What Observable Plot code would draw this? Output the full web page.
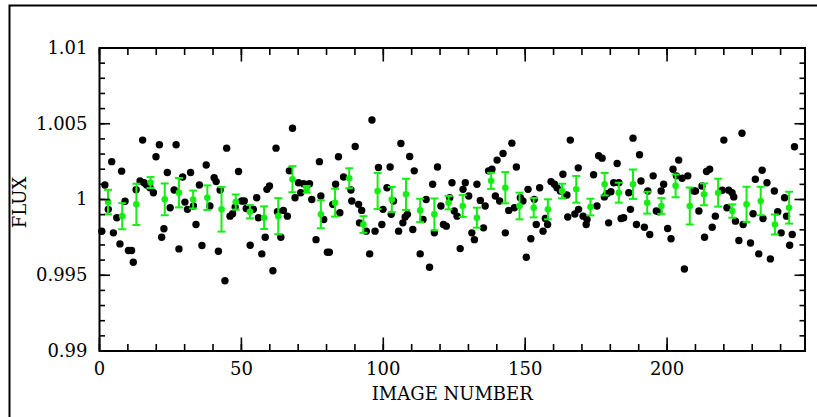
<!DOCTYPE html>
<html><head><meta charset="utf-8">
<script src="https://cdn.jsdelivr.net/npm/d3@7"></script>
<script src="https://cdn.jsdelivr.net/npm/@observablehq/plot@0.6"></script>
<style>html,body{margin:0;padding:0;background:#fff;overflow:hidden}svg{overflow:hidden}</style>
</head><body><div id="chart"></div>
<script>
// Individual images (black points)
const imageNumber = [
0.8,1.9,3.1,4.3,4.9,6.1,7.2,7.8,9.0,10.2,11.3,11.9,12.9,14.3,15.2,15.7,16.6,17.8,19.0,19.9,
21.1,21.9,22.7,23.9,24.9,26.3,27.0,28.0,29.3,30.1,31.0,32.1,33.1,34.0,35.2,36.1,37.6,38.9,40.4,41.1,
41.9,42.5,44.2,44.8,46.0,46.9,47.8,49.0,50.1,51.0,51.7,53.1,54.2,55.4,56.0,57.2,58.4,59.0,59.9,61.1,
62.2,62.7,63.9,64.8,66.2,66.9,68.0,68.9,70.1,70.9,71.9,73.0,74.0,74.8,76.3,77.5,78.0,79.0,80.3,81.0,
82.2,83.2,84.2,84.7,86.0,88.6,88.9,90.1,91.3,91.6,92.4,94.0,95.2,96.0,97.1,98.3,99.5,99.9,101.3,102.4,
102.8,103.6,105.4,106.2,106.9,107.7,108.5,109.3,110.4,110.9,113.0,114.0,115.1,116.3,117.4,118.0,119.1,120.3,121.2,122.2,
123.4,124.2,125.0,126.0,127.1,128.1,128.9,130.1,131.2,132.1,133.0,134.2,135.3,135.9,137.1,138.3,139.5,140.1,141.0,142.2,
143.0,144.2,145.3,146.2,146.9,148.3,149.2,150.4,151.0,152.0,153.2,153.9,155.1,156.3,157.1,157.9,159.1,160.3,161.2,162.4,
163.3,164.7,165.0,165.9,167.5,168.7,168.8,170.4,171.5,171.8,174.1,175.3,175.9,177.1,177.9,178.8,179.4,180.2,181.2,182.4,
183.0,183.8,184.7,186.5,187.1,188.0,189.2,190.3,190.8,192.0,193.2,193.9,195.1,196.2,197.1,197.9,198.8,200.2,201.4,202.1,
203.3,204.1,205.3,206.1,207.3,209.4,210.0,211.2,212.3,213.2,213.9,215.0,215.9,217.0,219.4,220.0,221.1,221.7,222.9,223.5,
224.1,225.3,226.4,226.8,229.4,230.3,231.1,232.3,233.5,233.8,235.2,236.4,237.8,239.0,240.2,241.4,242.1,243.2,244.1,244.9
];
const flux = [
0.9979,1.00096,0.99935,1.0025,0.9978,0.9988,0.99707,1.00187,0.99988,0.99663,0.99663,0.99586,1.00065,1.00122,1.00392,1.00111,1.00096,1.00078,1.00045,1.00282,
1.00361,0.99751,0.99807,1.00178,0.99946,1.00063,1.00361,0.99674,1.00149,0.99983,0.99935,1.00178,0.99957,0.99835,1.00096,0.99696,1.00228,0.99957,1.00144,1.00118,
0.99658,1.00063,0.99464,1.00339,0.9989,0.99906,0.9995,1.00185,0.9999,0.9999,0.99941,0.99698,0.99935,1.00012,0.9988,0.99641,0.99751,1.00067,1.00089,0.9953,
1.00339,0.99919,0.99751,0.99928,0.9989,1.00189,1.0047,1.00012,1.00111,1.00045,1.00104,1.00096,1.00104,1.0,0.99735,1.0025,1.00023,0.99868,0.99652,0.99652,
0.99968,1.00101,1.00282,0.99913,1.00149,1.00063,0.9999,1.0035,0.99968,0.99846,0.99928,0.99791,0.99641,1.00525,0.99791,1.00211,0.99835,0.99935,1.00078,1.00215,
0.99902,0.9999,0.99791,1.0037,0.99846,0.99884,0.99902,1.00284,0.99802,1.00189,0.99641,0.99868,1.0,0.99553,1.00101,0.9978,1.00215,0.99957,0.99835,0.99824,
1.00012,1.00111,0.99924,0.9989,0.99676,1.00067,1.00111,1.00023,0.9978,0.99735,1.00101,0.99994,0.99813,0.99957,1.00189,1.002,1.00023,1.0026,0.9999,1.00304,
0.9978,0.99928,1.00372,0.99946,1.00215,1.00012,0.9999,0.99619,1.00067,0.99741,1.00001,0.99835,1.00078,0.99791,0.99875,0.99835,1.00118,1.00101,1.00078,1.00056,
1.00167,1.0003,0.99884,1.00392,0.99904,1.00209,0.99935,0.9989,0.99835,0.99868,1.00163,0.99957,1.00289,1.00273,1.00017,1.00038,0.99846,1.00051,1.00111,1.00238,
1.00111,0.99875,0.9988,1.00045,0.99935,1.00405,0.99835,1.00295,1.00122,0.99817,1.00056,0.99769,1.00156,0.99924,0.99919,1.00056,1.00101,0.99809,0.99741,1.002,
1.00156,1.0026,1.0014,0.99541,1.00156,1.00056,1.00056,0.99924,1.00089,0.99751,1.00185,1.002,0.99817,0.9989,1.00061,1.00392,0.99946,1.00061,1.00045,1.00017,
0.99857,0.99729,1.00437,0.99835,0.99713,0.99906,1.00134,0.99641,1.00193,0.99875,1.00111,0.99608,1.00056,0.99919,0.9978,1.00012,0.9989,0.99698,0.99769,1.00348
];

// Binned means (green points with error bars)
const binImage = [3,8,13,18,23,28,33,38,43,48,53,58,63,68,73,78,83,88,93,98,103,108,113,118,123,128,133,138,143,148,153,158,163,168,173,178,183,188,193,198,203,208,213,218,223,228,233,238,243];
const binFlux = [
0.99983,0.9989,0.99968,1.00112,1.00001,1.00045,1.0,1.00012,0.99935,0.99983,
0.99919,0.9988,0.9989,1.00134,1.00067,0.99902,0.99979,1.0014,0.99835,1.00056,
1.0,1.00034,0.99928,0.99902,0.99979,0.99957,0.9988,1.00123,1.00078,0.99957,
0.99946,0.99935,1.00056,1.00067,0.9995,1.00101,1.00045,1.00101,0.99979,0.99957,
1.0009,0.99957,1.00034,1.00045,0.99924,0.99968,0.9999,0.99835,0.99946
];
const binErr = [
0.00081,0.00086,0.00136,0.00036,0.00105,0.00097,0.00059,0.00081,0.00147,0.0005,
0.00044,0.00075,0.00119,0.00086,0.00022,0.00092,0.00092,0.00066,0.00055,0.00119,
0.00083,0.00103,0.00077,0.00105,0.00044,0.00072,0.00066,0.00053,0.00103,0.00088,
0.00064,0.00066,0.00048,0.00088,0.00055,0.00074,0.00066,0.00097,0.00072,0.00052,
0.00075,0.00122,0.00072,0.00092,0.00044,0.00116,0.00094,0.00066,0.00105
];

// Axis ticks and labels
const xMajorTicks = [0, 50, 100, 150, 200];
const xTickLabels = ["0", "50", "100", "150", "200"];
const xMinorTicks = [0,10,20,30,40,50,60,70,80,90,100,110,120,130,140,150,160,170,180,190,200,210,220,230,240];
const yMajorTicks = [0.99, 0.995, 1.0, 1.005, 1.01];
const yTickLabels = ["0.99", "0.995", "1", "1.005", "1.01"];
const yMinorTicks = [0.99,0.991,0.992,0.993,0.994,0.995,0.996,0.997,0.998,0.999,1.0,1.001,1.002,1.003,1.004,1.005,1.006,1.007,1.008,1.009,1.01];
const xLabel = "IMAGE NUMBER";
const yLabel = "FLUX";

const green = "#14ee14";
const font = "DejaVu Serif";
const capSymbol = {
  draw(ctx, size) {
    const r = Math.sqrt(size / Math.PI);
    ctx.moveTo(-r, 0); ctx.lineTo(r, 0);
  }
};
const noText = () => "";

const chart = Plot.plot({
  width: 817,
  height: 417,
  marginLeft: 99,
  marginRight: 12.5,
  marginTop: 47.5,
  marginBottom: 66.5,
  style: {fontFamily: font, fontSize: "18px", color: "black", background: "white", overflow: "hidden"},
  x: {domain: [0, 248.6], label: null},
  y: {domain: [0.99, 1.01], label: null},
  marks: [
    // outer page border (only left/top edges visible)
    Plot.frame({stroke: "black", strokeWidth: 2, insetLeft: -90, insetTop: -42.5, insetRight: -60, insetBottom: -120}),
    // data
    Plot.dot(imageNumber, {x: d => d, y: (d, i) => flux[i], r: 3.7, fill: "black", stroke: "none"}),
    Plot.ruleX(binImage, {x: d => d, y1: (d, i) => binFlux[i] - binErr[i], y2: (d, i) => binFlux[i] + binErr[i], stroke: green, strokeWidth: 2}),
    Plot.dot(binImage, {x: d => d, y: (d, i) => binFlux[i] - binErr[i], symbol: capSymbol, r: 4, stroke: green, strokeWidth: 2, fill: "none"}),
    Plot.dot(binImage, {x: d => d, y: (d, i) => binFlux[i] + binErr[i], symbol: capSymbol, r: 4, stroke: green, strokeWidth: 2, fill: "none"}),
    Plot.dot(binImage, {x: d => d, y: (d, i) => binFlux[i], r: 3.3, fill: green, stroke: "none"}),
    // frame
    Plot.frame({stroke: "black", strokeWidth: 2}),
    // inward ticks
    Plot.axisX(xMinorTicks, {anchor: "bottom", tickSize: -6.5, tickFormat: noText, strokeWidth: 1.6, label: null}),
    Plot.axisX(xMinorTicks, {anchor: "top", tickSize: -6.5, tickFormat: noText, strokeWidth: 1.6, label: null}),
    Plot.axisX(xMajorTicks, {anchor: "bottom", tickSize: -13, tickFormat: noText, strokeWidth: 1.6, label: null}),
    Plot.axisX(xMajorTicks, {anchor: "top", tickSize: -13, tickFormat: noText, strokeWidth: 1.6, label: null}),
    Plot.axisY(yMinorTicks, {anchor: "left", tickSize: -6, tickFormat: noText, strokeWidth: 1.6, label: null}),
    Plot.axisY(yMinorTicks, {anchor: "right", tickSize: -6, tickFormat: noText, strokeWidth: 1.6, label: null}),
    Plot.axisY(yMajorTicks, {anchor: "left", tickSize: -11, tickFormat: noText, strokeWidth: 1.6, label: null}),
    Plot.axisY(yMajorTicks, {anchor: "right", tickSize: -11, tickFormat: noText, strokeWidth: 1.6, label: null}),
    // tick labels
    Plot.axisX(xMajorTicks, {anchor: "bottom", tickSize: 0, tickPadding: 11, tickFormat: d => xTickLabels[xMajorTicks.indexOf(d)], fontSize: 18, label: null}),
    Plot.axisY(yMajorTicks, {anchor: "left", tickSize: 0, tickPadding: 12, tickFormat: d => yTickLabels[yMajorTicks.indexOf(d)], fontSize: 18, label: null}),
    // axis titles
    Plot.text([xLabel], {frameAnchor: "bottom", dy: 43, lineAnchor: "middle", textAnchor: "middle", fontSize: 18, fill: "black"}),
    Plot.text([yLabel], {frameAnchor: "left", dx: -79, dy: 3, rotate: -90, textAnchor: "middle", lineAnchor: "middle", fontSize: 18, fill: "black"})
  ]
});
document.getElementById("chart").appendChild(chart);
</script>
</body></html>
